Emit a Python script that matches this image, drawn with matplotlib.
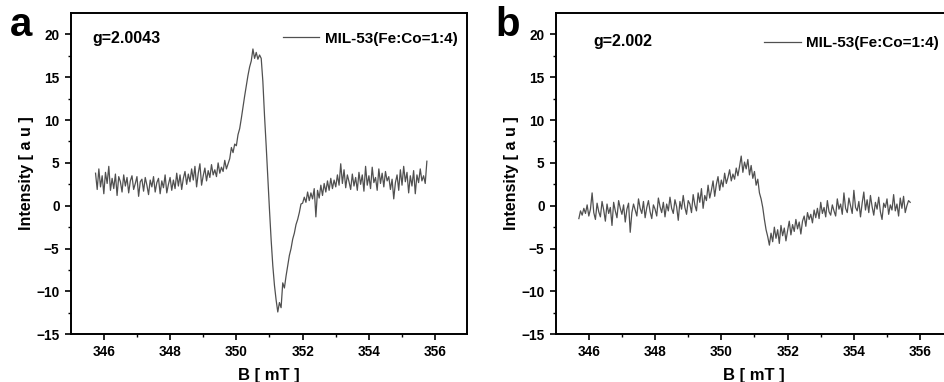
import numpy as np
import matplotlib.pyplot as plt

plt.rcParams['font.family'] = ['Liberation Sans', 'DejaVu Sans']
plt.rcParams['font.weight'] = 'bold'

# ----------- EPR data -----------
field_step = 0.05
a_start = 345.75
a_intensity = [
    # 345.75 - 348.20 baseline
    3.8, 1.9, 4.3, 2.2, 3.5, 1.4, 3.9, 2.6, 4.6, 1.8, 3.2, 2.0, 3.7, 1.2, 3.4, 2.8, 1.6, 3.6, 2.3, 3.3,
    1.5, 2.9, 3.5, 1.9, 2.6, 3.4, 1.1, 2.8, 3.1, 1.7, 3.3, 2.4, 1.3, 3.0, 2.2, 3.4, 1.6, 2.7, 3.2, 1.4,
    2.9, 2.1, 3.6, 1.5, 2.5, 3.3, 1.8, 3.0, 2.0, 3.8,
    # 348.25 - 349.75 slow rise
    2.3, 3.6, 1.9, 3.2, 4.0, 2.5, 3.7, 2.8, 4.3, 3.0, 4.6, 2.2, 3.8, 4.9, 2.4, 3.5, 4.4, 2.9, 4.1, 3.3,
    4.8, 3.6, 4.2, 3.4, 5.0, 3.8, 4.5, 4.0, 5.3, 4.3, 4.9,
    # 349.80 - 350.75 peak
    5.5, 6.8, 6.2, 7.2, 7.0, 8.3, 9.0, 10.2, 11.5, 12.8, 14.0, 15.2, 16.2, 16.9, 18.3, 17.2, 17.9, 17.1,
    17.6, 17.2,
    # 350.80 - 352.25 drop and trough
    14.5, 10.5, 7.0, 3.2, -0.5, -4.0, -7.0, -9.3, -11.0, -12.4, -11.3, -11.9, -9.0, -9.6, -8.2, -7.0,
    -5.8, -5.0, -3.9, -3.2, -2.2, -1.6, -0.8, 0.2, 0.3, 1.0, 0.4, 1.6, 0.6, 1.5,
    # 352.30 - 355.75 recovery and baseline
    0.8, 2.0, -1.3, 1.8, 0.9, 2.4, 1.2, 2.6, 1.6, 2.9, 1.8, 3.2, 2.0, 3.0, 2.2, 3.6, 2.4, 4.9, 2.6, 4.2,
    2.1, 3.6, 2.8, 1.9, 3.7, 2.3, 3.3, 1.8, 3.9, 2.5, 3.6, 1.7, 4.6, 2.4, 3.5, 2.0, 4.5, 2.7, 3.3, 1.8,
    4.3, 2.6, 3.8, 2.2, 4.0, 2.9, 3.4, 1.9, 3.1, 0.8, 2.7, 3.6, 1.8, 4.2, 2.4, 4.6, 2.8, 3.9, 1.5, 3.5,
    2.3, 4.1, 1.4, 3.6, 2.7, 4.3, 2.9, 3.5, 2.6, 5.2,
]

b_start = 345.70
b_intensity = [
    # 345.70 - 349.00 baseline
    -1.5, -0.6, -1.1, -0.3, -0.9, 0.1, -1.2, -0.4, 1.5, -0.8, -1.6, 0.3, -0.7, -1.3, 0.5, -0.5, -1.8, 0.2,
    -0.9, -0.2, -2.3, 0.4, -0.6, -1.4, 0.6, -0.3, -1.0, 0.1, -1.9, -0.4, 0.3, -3.1, -0.8, 0.2, -0.5, -1.2,
    0.8, -0.3, -0.9, 0.5, -1.4, -0.2, 0.6, -0.7, -1.5, 0.1, -0.4, -1.2, 0.9, -0.1, -0.8, 0.4, -1.3, 0.2,
    -0.6, 1.0, -0.3, -0.9, 0.7, -0.1, -1.7, 0.5, -0.4, 1.2, -0.2, -1.0, 0.6,
    # 349.05 - 350.50 rise
    0.2, -0.8, 1.3, 0.1, -0.6, 1.5, 0.4, 2.0, -0.3, 1.2, 0.6, 2.4, 0.9, 1.8, 2.9, 1.1, 2.5, 3.4, 1.8, 3.0,
    2.2, 3.8, 2.6, 3.3, 4.2, 2.9, 3.7, 3.1, 4.4, 3.5,
    # 350.55 - 351.00 peak
    4.6, 5.8, 3.9, 5.1, 4.3, 5.4, 3.6, 4.7, 3.2, 4.0,
    # 351.05 - 351.55 drop
    2.4, 3.1, 1.5, 0.8, -0.2, -1.6, -2.8, -3.6, -4.6, -3.2, -4.2,
    # 351.60 - 352.40 trough
    -2.5, -3.8, -2.8, -4.4, -2.3, -3.5, -2.6, -4.1, -2.9, -1.8, -3.4, -2.2, -3.0, -1.6, -2.7, -1.9, -3.3,
    # 352.45 - 355.70 baseline
    -1.8, -1.2, -2.4, -0.8, -1.6, -1.0, -2.0, -0.5, -1.4, -0.3, -1.5, 0.4, -0.9, -0.2, -1.3, 0.6, -0.7,
    -1.1, 0.1, -0.6, -1.2, 0.8, -0.4, 0.2, -1.0, 1.5, -0.3, -0.8, 0.9, 0.0, -0.9, 1.8, -0.2, -0.6, 0.5,
    -1.3, 0.3, 1.6, -0.5, 0.7, -0.8, 1.2, -0.1, -1.1, 0.4, -0.4, 1.0, -0.7, -1.6, 0.3, -0.2, 0.8, -1.0,
    0.1, -0.5, 1.3, -0.6, 0.2, -1.2, 0.9, -0.3, 1.1, -0.8, 0.0, 0.6, 0.4,
]

panels = ['a', 'b']
g_values = ['g=2.0043', 'g=2.002']
sample_label = 'MIL-53(Fe:Co=1:4)'
x_ticks = [346, 348, 350, 352, 354, 356]
y_ticks = [-15, -10, -5, 0, 5, 10, 15, 20]


def draw(ax, start, values, letter, gtext, gpos, legpos):
    x = start + field_step * np.arange(len(values))
    ax.plot(x, values, color='#505050', lw=0.9, label=sample_label)
    ax.set_xlim(345.0, 356.95)
    ax.set_ylim(-15, 22.5)
    ax.set_xticks(x_ticks)
    ax.set_yticks(y_ticks)
    ax.set_xticks(np.arange(347, 357, 2), minor=True)
    ax.set_yticks(np.arange(-12.5, 22.5, 5), minor=True)
    ax.tick_params(which='major', direction='out', length=4, width=1.2, labelsize=9.8, pad=4)
    ax.tick_params(which='minor', direction='out', length=2.5, width=1.0)
    for s in ax.spines.values():
        s.set_linewidth(1.4)
    ax.set_xlabel('B [ mT ]', fontsize=12, fontweight='bold', labelpad=6)
    ax.set_ylabel('Intensity [ a u ]', fontsize=11.5, fontweight='bold', labelpad=1.5)
    ax.text(gpos[0], gpos[1], gtext, transform=ax.transAxes, fontsize=11.5, fontweight='bold',
            va='baseline')
    ax.legend(loc='upper right', bbox_to_anchor=legpos, frameon=False, handlelength=2.4,
              handletextpad=0.35, borderaxespad=0, prop={'weight': 'bold', 'size': 11})
    ax.text(-0.153, 0.929, letter, transform=ax.transAxes, fontsize=29, fontweight='bold',
            va='baseline')


fig = plt.figure(figsize=(9.45, 3.82), dpi=100)
ax_a = fig.add_axes([0.0748, 0.125, 0.419, 0.841])
ax_b = fig.add_axes([0.588, 0.125, 0.419, 0.841])

draw(ax_a, a_start, a_intensity, panels[0], g_values[0], (0.054, 0.907), (0.992, 0.961))
draw(ax_b, b_start, b_intensity, panels[1], g_values[1], (0.095, 0.896), (0.983, 0.946))

fig.savefig('out.png', dpi=100)
